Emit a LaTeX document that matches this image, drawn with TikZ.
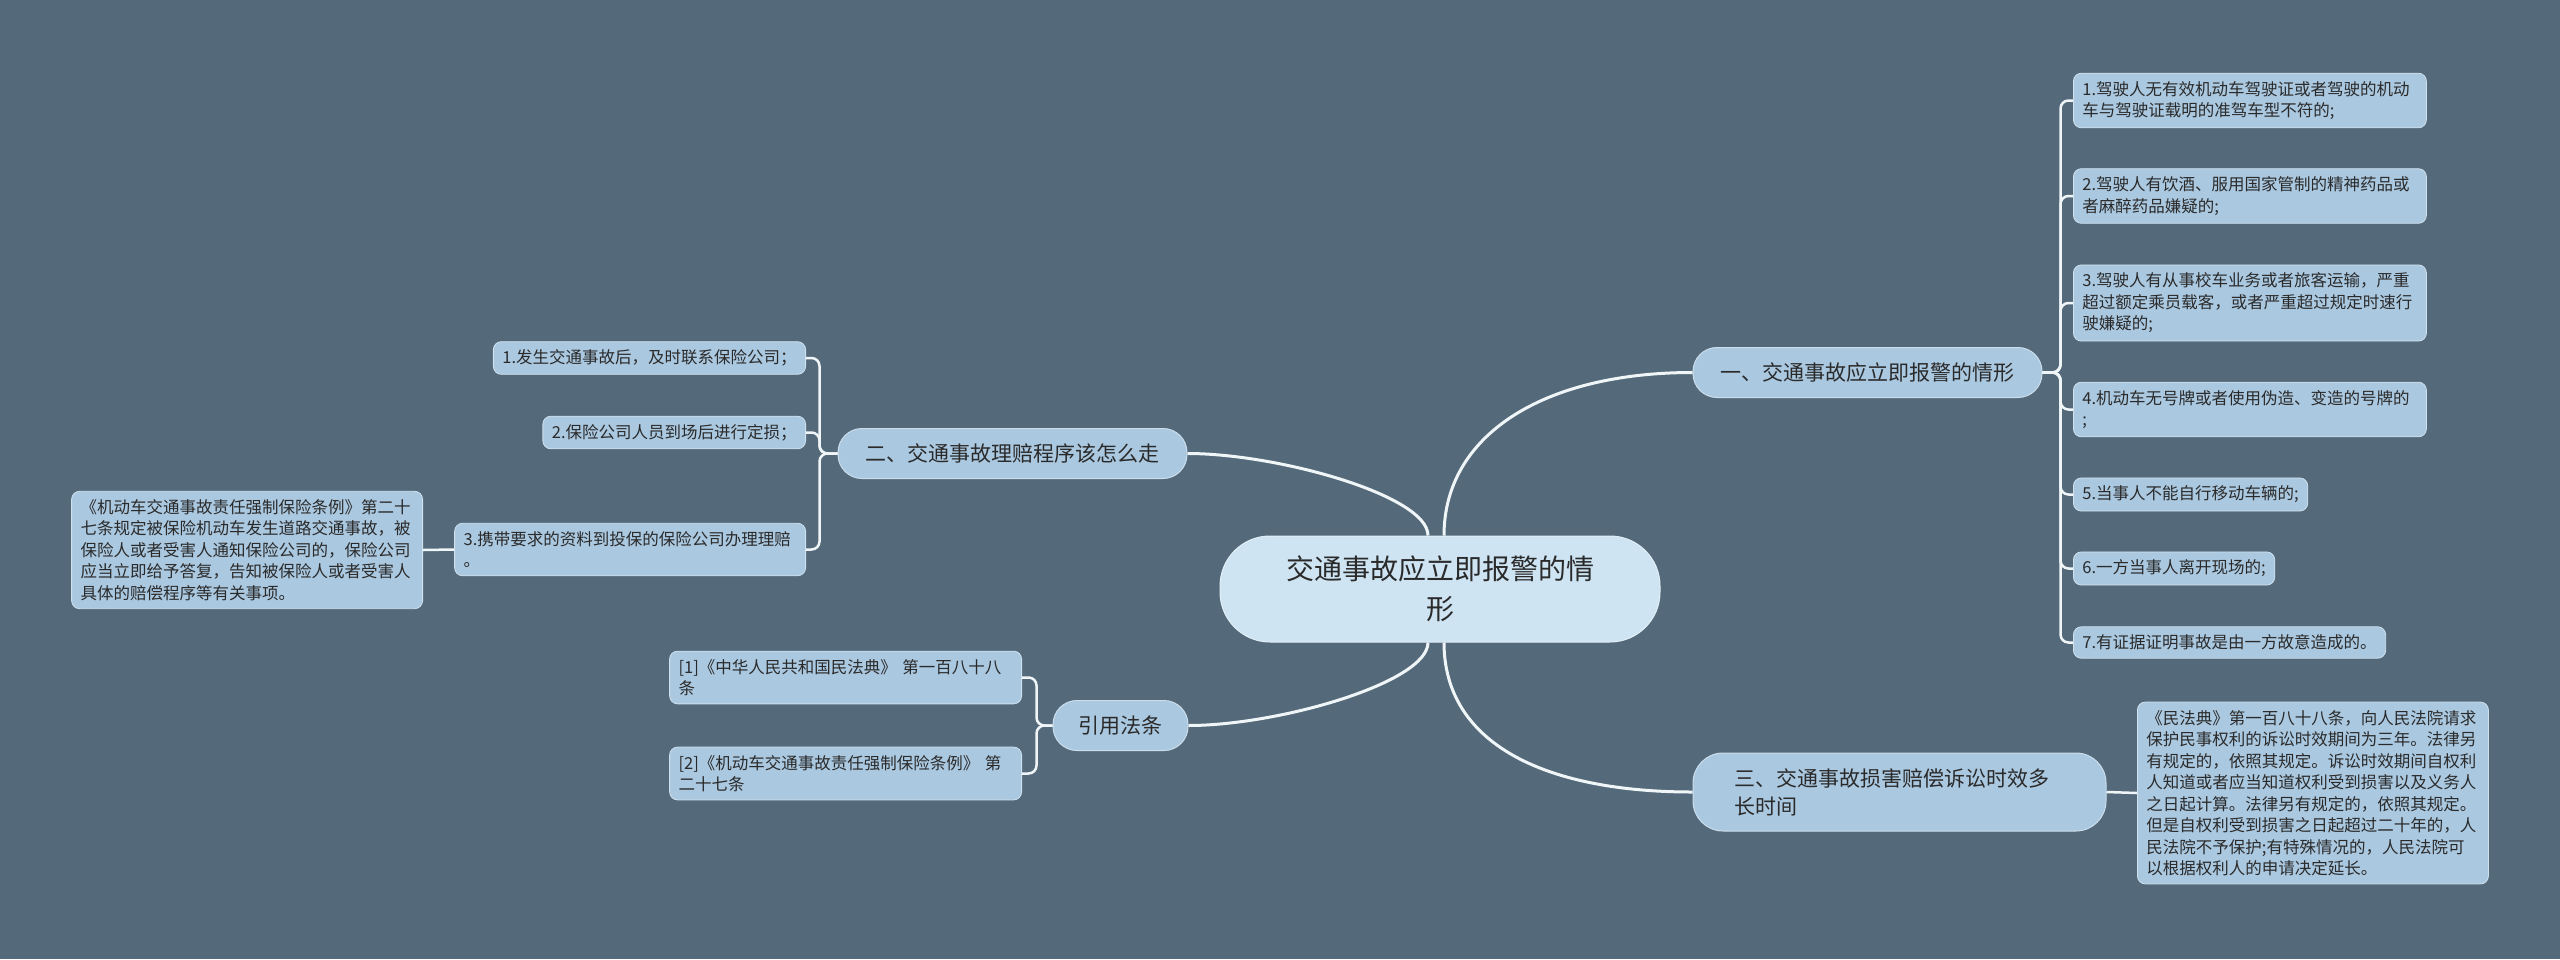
\documentclass[tikz,border=0pt]{standalone}
\usepackage{fontspec}
\setmainfont{Noto Sans CJK SC}
\usetikzlibrary{positioning}

\definecolor{bgslate}{HTML}{546A7A}
\definecolor{leafblue}{HTML}{AAC8E0}
\definecolor{hubblue}{HTML}{CEE4F2}
\definecolor{linkwhite}{HTML}{F0F5F8}
\definecolor{inkgray}{HTML}{2A2A2A}

\tikzset{
  hub/.style={fill=hubblue, draw=hubblue!60!white, line width=1pt, rounded corners=50pt,
    minimum width=440pt, minimum height=106pt, align=center, text=inkgray,
    font=\fontsize{28}{40}\selectfont},
  topic/.style={fill=leafblue, draw=leafblue!60!white, line width=1pt, rounded corners=24pt,
    minimum height=50pt, align=left, text=inkgray, font=\fontsize{21}{28}\selectfont},
  leaf/.style={fill=leafblue, draw=leafblue!55!white, line width=0.8pt, rounded corners=8pt,
    inner xsep=9pt, inner ysep=8pt, align=left, text=inkgray,
    font=\fontsize{16.5}{21.5}\selectfont},
  link/.style={draw=linkwhite, line width=3pt},
  twig/.style={draw=linkwhite, line width=2.5pt, rounded corners=8pt}
}

\begin{document}
\begin{tikzpicture}[x=1pt,y=1pt]
    \fill[bgslate] (0,0) rectangle (2560,-959);

    % centre
    \node[hub] (hub) at (1440,-589) {交通事故应立即报警的情\\形};

    % main topics
    \node[topic, minimum width=349pt] (b1) at (1867.5,-372.5) {一、交通事故应立即报警的情形};
    \node[topic, minimum width=349pt] (b2) at (1012.5,-453.5) {二、交通事故理赔程序该怎么走};
    \node[topic, minimum width=413pt, minimum height=78pt, rounded corners=30pt, text width=330pt] (b3) at (1899.5,-792) {三、交通事故损害赔偿诉讼时效多\\长时间};
    \node[topic, minimum width=135pt] (b4) at (1120.5,-725.5) {引用法条};

    % topic 1
    \node[leaf, anchor=west, text width=335pt] (r1) at (2073,-100.5) {1.驾驶人无有效机动车驾驶证或者驾驶的机动\\车与驾驶证载明的准驾车型不符的;};
    \node[leaf, anchor=west, text width=335pt] (r2) at (2073,-196) {2.驾驶人有饮酒、服用国家管制的精神药品或\\者麻醉药品嫌疑的;};
    \node[leaf, anchor=west, text width=335pt] (r3) at (2073,-303) {3.驾驶人有从事校车业务或者旅客运输，严重\\超过额定乘员载客，或者严重超过规定时速行\\驶嫌疑的;};
    \node[leaf, anchor=west, text width=335pt] (r4) at (2073,-409.5) {4.机动车无号牌或者使用伪造、变造的号牌的\\;};
    \node[leaf, anchor=west] (r5) at (2073,-494.5) {5.当事人不能自行移动车辆的;};
    \node[leaf, anchor=west] (r6) at (2073,-568.5) {6.一方当事人离开现场的;};
    \node[leaf, anchor=west] (r7) at (2073,-642.5) {7.有证据证明事故是由一方故意造成的。};

    % topic 2
    \node[leaf, anchor=east] (l1) at (806,-358) {1.发生交通事故后，及时联系保险公司；};
    \node[leaf, anchor=east] (l2) at (806,-432.5) {2.保险公司人员到场后进行定损；};
    \node[leaf, anchor=east, text width=333pt] (l3) at (806,-549.5) {3.携带要求的资料到投保的保险公司办理理赔\\。};
    \node[leaf, anchor=east, text width=333pt] (note) at (423,-550) {《机动车交通事故责任强制保险条例》第二十\\七条规定被保险机动车发生道路交通事故，被\\保险人或者受害人通知保险公司的，保险公司\\应当立即给予答复，告知被保险人或者受害人\\具体的赔偿程序等有关事项。};

    % topic 3
    \node[leaf, anchor=west, text width=333pt] (rr) at (2137,-793) {《民法典》第一百八十八条，向人民法院请求\\保护民事权利的诉讼时效期间为三年。法律另\\有规定的，依照其规定。诉讼时效期间自权利\\人知道或者应当知道权利受到损害以及义务人\\之日起计算。法律另有规定的，依照其规定。\\但是自权利受到损害之日起超过二十年的，人\\民法院不予保护;有特殊情况的，人民法院可\\以根据权利人的申请决定延长。};

    % citations
    \node[leaf, anchor=east, text width=334pt] (c1) at (1022,-677.5) {[1]《中华人民共和国民法典》 第一百八十八\\条};
    \node[leaf, anchor=east, text width=334pt] (c2) at (1022,-773.5) {[2]《机动车交通事故责任强制保险条例》 第\\二十七条};

    % centre to topics
    \draw[link] ([xshift=4pt]hub.north) .. controls +(0,100) and +(-150,0) .. (b1.west);
    \draw[link] ([xshift=-12pt]hub.north) .. controls +(0,40) and +(90,0) .. (b2.east);
    \draw[link] ([xshift=4pt]hub.south) .. controls +(0,-100) and +(-150,0) .. (b3.west);
    \draw[link] ([xshift=-12pt]hub.south) .. controls +(0,-40) and +(90,0) .. (b4.east);

    % topics to leaves
    \foreach \n in {r1,r2,r3,r4,r5,r6,r7}
        \draw[twig] (b1.east) -- ++(18,0) |- (\n.west);
    \foreach \n in {l1,l2,l3}
        \draw[twig] (b2.west) -- ++(-18,0) |- (\n.east);
    \foreach \n in {c1,c2}
        \draw[twig] (b4.west) -- ++(-16,0) |- (\n.east);
    \draw[twig] (l3.west) -- (note.east);
    \draw[twig] (b3.east) -- (rr.west);
\end{tikzpicture}
\end{document}
